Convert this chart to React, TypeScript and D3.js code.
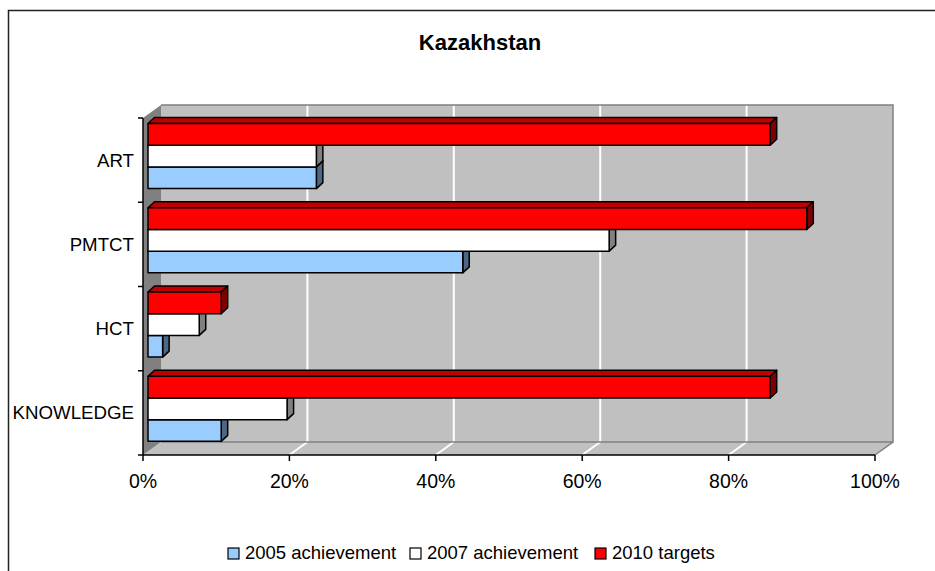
import React, { useRef, useEffect } from 'react';
import * as d3 from 'd3';

const categories = ['ART', 'PMTCT', 'HCT', 'KNOWLEDGE'];
const seriesNames = ['2005 achievement', '2007 achievement', '2010 targets'];
const values2005 = [0.23, 0.43, 0.02, 0.10];
const values2007 = [0.23, 0.63, 0.07, 0.19];
const values2010 = [0.85, 0.90, 0.10, 0.85];
const xTicks = [0, 0.2, 0.4, 0.6, 0.8, 1];

// front, top, side colours per series
const faces = [
  { front: '#99CCFF', top: '#7A9FC8', side: '#4D6682' },
  { front: '#FFFFFF', top: '#C0C0C0', side: '#808080' },
  { front: '#FF0000', top: '#C00000', side: '#800000' },
];

const W = 935, H = 571;
const font = 'Liberation Sans, Arial, sans-serif';

export default function App() {
  const ref = useRef<SVGSVGElement>(null);

  useEffect(() => {
    const svg = d3.select(ref.current);
    svg.selectAll('*').remove();

    // plot geometry (front plane) and 3d depth offset
    const x0 = 143, x1 = 875, yTop = 118, yBot = 455;
    const dx = 18, dy = -13;

    const x = d3.scaleLinear().domain([0, 1]).range([x0, x1]);
    const y = d3.scaleBand().domain(categories).range([yTop, yBot]);

    // chart border
    svg.append('rect')
      .attr('x', 8.5).attr('y', 10.5)
      .attr('width', W).attr('height', H)
      .attr('fill', '#fff').attr('stroke', '#222').attr('stroke-width', 1.5);

    svg.append('text')
      .attr('x', 480).attr('y', 50)
      .attr('text-anchor', 'middle')
      .style('font-family', font).style('font-size', '22px').style('font-weight', 'bold')
      .text('Kazakhstan');

    // back wall
    svg.append('rect')
      .attr('x', x0 + dx).attr('y', yTop + dy)
      .attr('width', x1 - x0).attr('height', yBot - yTop)
      .attr('fill', '#C0C0C0');

    // floor
    svg.append('path')
      .attr('d', `M${x0},${yBot}L${x1},${yBot}L${x1 + dx},${yBot + dy}L${x0 + dx},${yBot + dy}Z`)
      .attr('fill', '#C0C0C0');

    // left wall
    svg.append('path')
      .attr('d', `M${x0},${yTop}L${x0 + dx},${yTop + dy}L${x0 + dx},${yBot + dy}L${x0},${yBot}Z`)
      .attr('fill', '#808080');

    // gridlines on wall and floor
    const grid = svg.append('g').attr('stroke', '#fff').attr('stroke-width', 2);
    xTicks.slice(1, -1).forEach(t => {
      grid.append('line')
        .attr('x1', x(t) + dx).attr('x2', x(t) + dx)
        .attr('y1', yTop + dy).attr('y2', yBot + dy);
      grid.append('line')
        .attr('x1', x(t)).attr('x2', x(t) + dx)
        .attr('y1', yBot).attr('y2', yBot + dy);
    });

    // wall edges
    svg.append('path')
      .attr('d', `M${x0 + dx},${yTop + dy}L${x1 + dx},${yTop + dy}L${x1 + dx},${yBot + dy}L${x1},${yBot}M${x0 + dx},${yBot + dy}L${x1 + dx},${yBot + dy}`)
      .attr('fill', 'none').attr('stroke', '#808080').attr('stroke-width', 1.5);

    // bars
    const all = [values2005, values2007, values2010];
    const barH = 21.7, bdx = 6.5, bdy = -6, inset = 5;
    const bx = d3.scaleLinear().domain([0, 1]).range([x0 + inset, x1 + inset]);
    const bars = svg.append('g')
      .attr('stroke', '#000').attr('stroke-width', 1.5).attr('stroke-linejoin', 'round');

    categories.forEach((c, ci) => {
      const top = (y(c) as number) + 5.5;
      // draw bottom series first so the upper bars cover hidden faces
      [0, 1, 2].forEach(si => {
        const v = all[si][ci];
        const yy = top + (2 - si) * barH;
        const xl = bx(0), xr = bx(v);
        bars.append('path')
          .attr('d', `M${xl},${yy}L${xl + bdx},${yy + bdy}L${xr + bdx},${yy + bdy}L${xr},${yy}Z`)
          .attr('fill', faces[si].top);
        bars.append('path')
          .attr('d', `M${xr},${yy}L${xr + bdx},${yy + bdy}L${xr + bdx},${yy + barH + bdy}L${xr},${yy + barH}Z`)
          .attr('fill', faces[si].side);
        bars.append('rect')
          .attr('x', xl).attr('y', yy)
          .attr('width', xr - xl).attr('height', barH)
          .attr('fill', faces[si].front);
      });
    });

    // axes
    const axis = svg.append('g').attr('stroke', '#000').attr('stroke-width', 1.5);
    axis.append('line').attr('x1', x0).attr('x2', x0).attr('y1', yTop).attr('y2', yBot);
    axis.append('line').attr('x1', x0).attr('x2', x1).attr('y1', yBot).attr('y2', yBot);
    categories.concat(['']).forEach((c, i) => {
      const yy = yTop + i * y.step();
      axis.append('line').attr('x1', x0 - 5).attr('x2', x0).attr('y1', yy).attr('y2', yy);
    });
    xTicks.forEach(t => {
      axis.append('line').attr('x1', x(t)).attr('x2', x(t)).attr('y1', yBot).attr('y2', yBot + 6);
    });

    svg.append('g').selectAll('text')
      .data(categories).enter().append('text')
      .attr('x', 134)
      .attr('y', d => (y(d) as number) + y.bandwidth() / 2 + 6.5)
      .attr('text-anchor', 'end')
      .style('font-family', font).style('font-size', '18.7px')
      .text(d => d);

    svg.append('g').selectAll('text')
      .data(xTicks).enter().append('text')
      .attr('x', d => x(d))
      .attr('y', 488)
      .attr('text-anchor', 'middle')
      .style('font-family', font).style('font-size', '19.5px')
      .text(d => d3.format('.0%')(d));

    // legend
    const legendX = [245, 427, 612];
    const legend = svg.append('g');
    seriesNames.forEach((n, i) => {
      legend.append('rect')
        .attr('x', legendX[i] - 17).attr('y', 548)
        .attr('width', 11).attr('height', 11)
        .attr('fill', faces[i].front).attr('stroke', '#000').attr('stroke-width', 1.2);
      legend.append('text')
        .attr('x', legendX[i]).attr('y', 559)
        .style('font-family', font).style('font-size', '18.5px')
        .text(n);
    });
  }, []);

  return (
    <svg ref={ref} width={W} height={H}
      style={{ position: 'absolute', left: 0, top: 0, background: '#fff' }} />
  );
}
